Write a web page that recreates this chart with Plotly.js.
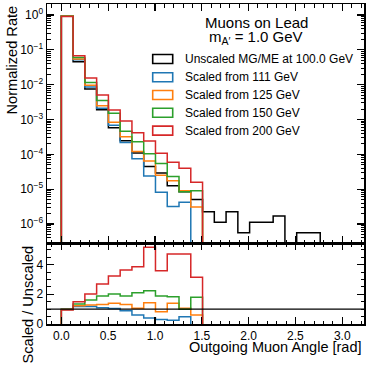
<!DOCTYPE html>
<html>
<head>
<meta charset="utf-8">
<script src="https://cdn.plot.ly/plotly-3.0.1.min.js"></script>
<style>
  html, body { margin: 0; padding: 0; background: #fff; }
  #chart { width: 374px; height: 369px; }
</style>
</head>
<body>
<div id="chart"></div>
<script>
// binning: 25 bins over [0, pi]
const nBins = 25;
const angleMax = Math.PI;

// normalized rate per bin
const unscaled = [0.94, 0.0457, 0.0075, 0.0019, 5.8e-4, 2.45e-4, 1.1e-4, 4.5e-5, 2.9e-5, 1.25e-5, 8.5e-6,
    5.1e-6, 2.25e-6, 1.12e-6, 2.25e-6, 5.6e-7, 1.12e-6, 1.12e-6, 1.7e-6, 0, 5.6e-7, 5.6e-7];
const scaled111 = [0.935, 0.052, 0.0086, 0.0021, 6.8e-4, 2.2e-4, 7.5e-5, 2.4e-5, 8.2e-6, 3.2e-6, 4.2e-6];
const scaled125 = [0.93, 0.055, 0.0096, 0.0025, 8.4e-4, 3.2e-4, 1.2e-4, 6.4e-5, 2.5e-5, 1.75e-5, 9.0e-6, 3.1e-6];
const scaled150 = [0.92, 0.06, 0.0116, 0.0035, 1.52e-3, 4.6e-4, 2.3e-4, 1.04e-4, 5.5e-5, 2.3e-5, 8.4e-6, 9.0e-6];
const scaled200 = [0.91, 0.068, 0.0155, 0.0051, 1.87e-3, 9.0e-4, 4.2e-4, 2.4e-4, 1.07e-4, 5.9e-5, 4.0e-5, 1.58e-5];

// scaled / unscaled
const ratio111 = [0.99, 1.17, 1.17, 1.10, 1.05, 0.90, 0.61, 0.40, 0.30, 0.26, 0.49];
const ratio125 = [0.99, 1.23, 1.28, 1.32, 1.39, 1.32, 1.06, 1.43, 0.83, 1.39, 1.06, 0.61];
const ratio150 = [0.98, 1.35, 1.62, 1.89, 2.02, 1.89, 2.11, 2.24, 1.89, 1.84, 0.99, 1.80];
const ratio200 = [0.95, 1.50, 2.02, 2.69, 3.23, 3.64, 3.86, 5.16, 3.59, 4.71, 4.71, 3.14];

const seriesNames = ['Unscaled MG/ME at 100.0 GeV', 'Scaled from 111 GeV', 'Scaled from 125 GeV',
    'Scaled from 150 GeV', 'Scaled from 200 GeV'];
const seriesColors = ['#000000', '#1f77b4', '#ff7f0e', '#2ca02c', '#d62728'];

const rates = [unscaled, scaled111, scaled125, scaled150, scaled200];
const ratios = [null, ratio111, ratio125, ratio150, ratio200];

const decadeTicks = [1, 1e-1, 1e-2, 1e-3, 1e-4, 1e-5, 1e-6];
const decadeLabels = ['10<sup>0</sup>', '10<sup>\u22121</sup>', '10<sup>\u22122</sup>', '10<sup>\u22123</sup>',
    '10<sup>\u22124</sup>', '10<sup>\u22125</sup>', '10<sup>\u22126</sup>'];

const binWidth = angleMax / nBins;
const edges = Array.from({ length: nBins + 1 }, (_, i) => i * binWidth);

// step outline of a histogram, dropping to `floor` at both ends and at empty bins
function stepXY(vals, floor) {
    const x = [edges[0]], y = [floor];
    vals.forEach((v, i) => { x.push(edges[i]); y.push(v > 0 ? v : floor); });
    const n = vals.length;
    x.push(edges[n]); y.push(vals[n - 1] > 0 ? vals[n - 1] : floor);
    x.push(edges[n]); y.push(floor);
    return { x, y };
}

const traces = [];
rates.forEach((vals, k) => {
    const s = stepXY(vals, 1e-9);
    traces.push({
        x: s.x, y: s.y, xaxis: 'x', yaxis: 'y',
        type: 'scatter', mode: 'lines',
        line: { shape: 'hv', color: seriesColors[k], width: 1.5 },
        name: seriesNames[k], hoverinfo: 'skip'
    });
});
ratios.forEach((vals, k) => {
    if (!vals) return;
    const s = stepXY(vals, -1);
    traces.push({
        x: s.x, y: s.y, xaxis: 'x2', yaxis: 'y2',
        type: 'scatter', mode: 'lines',
        line: { shape: 'hv', color: seriesColors[k], width: 1.5 },
        showlegend: false, hoverinfo: 'skip'
    });
});

// minor ticks for the log axis
const minorLog = [];
for (let d = -7; d <= 0; d++) for (let m = 2; m <= 9; m++) minorLog.push(m * Math.pow(10, d));

const font = 'Liberation Sans, Arial, Helvetica, sans-serif';
const axisBase = {
    showline: true, linecolor: '#000', linewidth: 1.5, mirror: 'allticks',
    ticks: 'inside', ticklen: 7, tickwidth: 1.2, tickcolor: '#000',
    showgrid: false, zeroline: false,
    tickfont: { family: font, size: 12, color: '#000' }
};
const xRange = [-0.153, 3.232];

// hand-made legend (hollow boxes like matplotlib step patches)
const legX0 = (152.7 - 47) / 317, legX1 = (172.7 - 47) / 317, legTextX = (183 - 47) / 317;
const legY = [59, 77.2, 95, 112.8, 130.6].map(py => (324 - py) / 320);
const shapes = [{
    type: 'line', xref: 'x2 domain', yref: 'y2', x0: 0, x1: 1, y0: 1, y1: 1,
    line: { color: '#000', width: 1.2 }, layer: 'above'
}];
const annotations = [];
seriesNames.forEach((name, k) => {
    shapes.push({
        type: 'rect', xref: 'paper', yref: 'paper',
        x0: legX0, x1: legX1, y0: legY[k] - 4.5 / 320, y1: legY[k] + 4.5 / 320,
        line: { color: seriesColors[k], width: 1.6 }, fillcolor: 'rgba(0,0,0,0)'
    });
    annotations.push({
        xref: 'paper', yref: 'paper', x: legTextX, y: legY[k], xanchor: 'left', yanchor: 'middle',
        text: name, showarrow: false, font: { family: font, size: 12, color: '#000' }
    });
});
annotations.push(
    { xref: 'paper', yref: 'paper', x: (203 - 47) / 317, y: (324 - 22.7) / 320, xanchor: 'left', yanchor: 'middle',
      text: 'Muons on Lead', showarrow: false, font: { family: font, size: 15, color: '#000' } },
    { xref: 'paper', yref: 'paper', x: (206.5 - 47) / 317, y: (324 - 37) / 320, xanchor: 'left', yanchor: 'middle',
      text: 'm<sub>A\u2032</sub> = 1.0 GeV', showarrow: false, font: { family: font, size: 15, color: '#000' } },
    { xref: 'paper', yref: 'paper', x: (11 - 47) / 317, y: (324 - 4) / 320, xanchor: 'center', yanchor: 'top',
      textangle: -90, text: 'Normalized Rate', showarrow: false, font: { family: font, size: 14.6, color: '#000' } },
    { xref: 'paper', yref: 'paper', x: (27.5 - 47) / 317, y: (324 - 244) / 320, xanchor: 'center', yanchor: 'top',
      textangle: -90, text: 'Scaled / Unscaled', showarrow: false, font: { family: font, size: 14.6, color: '#000' } },
    { xref: 'paper', yref: 'paper', x: 1, y: (324 - 346.5) / 320, xanchor: 'right', yanchor: 'middle',
      text: 'Outgoing Muon Angle [rad]', showarrow: false, font: { family: font, size: 14.5, color: '#000' } }
);

const layout = {
    width: 374, height: 369,
    margin: { l: 47, r: 10, t: 4, b: 45, pad: 0 },
    paper_bgcolor: '#fff', plot_bgcolor: '#fff',
    showlegend: false,
    font: { family: font, color: '#000' },
    xaxis: {
        ...axisBase, anchor: 'y', domain: [0, 1], matches: 'x2', range: xRange,
        showticklabels: false, tick0: 0, dtick: 0.5,
        minor: { ticks: 'inside', ticklen: 3.5, tickwidth: 1, tick0: 0, dtick: 0.1, tickcolor: '#000' }
    },
    yaxis: {
        ...axisBase, anchor: 'x', domain: [0.253, 1], type: 'log', range: [-6.545, 0.316],
        tickmode: 'array', tickvals: decadeTicks, ticktext: decadeLabels,
        minor: { ticks: 'inside', ticklen: 3.5, tickwidth: 1, tickmode: 'array', tickvals: minorLog, tickcolor: '#000' }
    },
    xaxis2: {
        ...axisBase, anchor: 'y2', domain: [0, 1], range: xRange,
        tick0: 0, dtick: 0.5, tickformat: '.1f',
        minor: { ticks: 'inside', ticklen: 3.5, tickwidth: 1, tick0: 0, dtick: 0.1, tickcolor: '#000' }
    },
    yaxis2: {
        ...axisBase, anchor: 'x2', domain: [0, 0.253], range: [0, 5.45],
        tick0: 0, dtick: 2,
        minor: { ticks: 'inside', ticklen: 3.5, tickwidth: 1, tick0: 0, dtick: 0.5, tickcolor: '#000' }
    },
    shapes: shapes,
    annotations: annotations
};

Plotly.newPlot('chart', traces, layout, { staticPlot: true, displayModeBar: false });
</script>
</body>
</html>
